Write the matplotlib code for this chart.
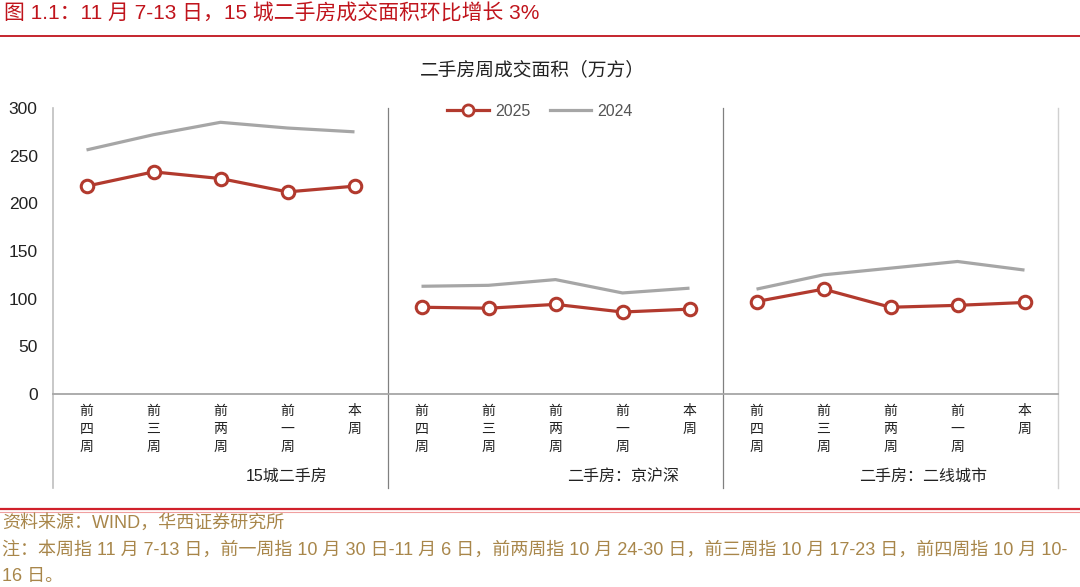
import matplotlib
matplotlib.use("Agg")
import matplotlib.pyplot as plt
from matplotlib.lines import Line2D

plt.rcParams['font.family'] = ['Liberation Sans', 'Noto Sans CJK SC', 'DejaVu Sans']

weeks = ["前四周", "前三周", "前两周", "前一周", "本周"]
groups = ["15城二手房", "二手房：京沪深", "二手房：二线城市"]
s2025 = [[218, 233, 226, 212, 218],
         [91, 90, 94, 86, 89],
         [97, 110, 91, 93, 96]]
s2024 = [[256, 272, 285, 279, 275],
         [113, 114, 120, 106, 111],
         [110, 125, 132, 139, 130]]
yticks = [0, 50, 100, 150, 200, 250, 300]

W, H = 1080, 587
fig = plt.figure(figsize=(W/100, H/100), dpi=100)
ax = fig.add_axes([53/W, 1-394/H, 1005/W, 286/H])

red = '#b23a2e'
gray = '#a6a6a6'
for g in range(3):
    xs = [g*5 + i for i in range(5)]
    ax.plot(xs, s2024[g], color=gray, lw=2.3, solid_capstyle='butt', zorder=2)
    ax.plot(xs, s2025[g], color=red, lw=2.3, marker='o', ms=9, mfc='white', mec=red, mew=2.2, zorder=3)

ax.set_xlim(-0.5, 14.5)
ax.set_ylim(0, 300)
ax.set_yticks(yticks)
ax.set_yticklabels([str(v) for v in yticks], fontsize=12.5, color='#222222')
ax.tick_params(axis='y', length=0, pad=11)
ax.set_xticks([])
for sp in ['top', 'right', 'bottom', 'left']:
    ax.spines[sp].set_visible(False)

low = -98.5
ax.plot([-0.5, -0.5], [300, low], color='#bfbfbf', lw=1.2, clip_on=False, zorder=1)
for xv in [4.5, 9.5]:
    ax.plot([xv, xv], [300, low], color='#808080', lw=0.9, clip_on=False, zorder=1)
ax.plot([14.5, 14.5], [300, low], color='#d0d0d0', lw=1.0, clip_on=False, zorder=1)
ax.plot([-0.5, 14.5], [0, 0], color='#a6a6a6', lw=1.3, clip_on=False, zorder=1)

for g in range(3):
    for i, w in enumerate(weeks):
        ax.text(g*5 + i, -11, "\n".join(w), ha='center', va='top', fontsize=10,
                linespacing=1.35, color='#222222', family=['Noto Sans CJK SC'])
group_x = [(287-53)/67 - 0.5, (623-53)/67 - 0.5, (923-53)/67 - 0.5]
for g in range(3):
    ax.text(group_x[g], -86, groups[g], ha='center', va='center', fontsize=11.5,
            color='#222222', family=['Liberation Sans', 'Noto Sans CJK SC'])

handles = [Line2D([], [], color=red, lw=2.3, marker='o', ms=8, mfc='white', mec=red, mew=2),
           Line2D([], [], color=gray, lw=2.3)]
ax.legend(handles, ['2025', '2024'], loc='center', bbox_to_anchor=((540-53)/1005, 1-3/286),
          ncol=2, frameon=False, fontsize=11.5, handlelength=2.6, columnspacing=1.2,
          handletextpad=0.4, labelcolor='#555555')

fig.text(532/W, 1-70/H, "二手房周成交面积（万方）", ha='center', va='center', fontsize=13.5,
         color='#222222', family=['Noto Sans CJK SC'])

fig.text(4/W, 1-14/H, "图 1.1：11 月 7-13 日，15 城二手房成交面积环比增长 3%", ha='left', va='center',
         fontsize=15, color='#c0141c')
fig.add_artist(Line2D([0, 1], [1-36/H, 1-36/H], color='#c0141c', lw=1.3))
fig.add_artist(Line2D([0, 1], [1-509/H, 1-509/H], color='#d0202a', lw=1.6))
fig.add_artist(Line2D([0, 1], [1-512/H, 1-512/H], color='#f0a0a0', lw=0.8))

foot = '#a8864a'
fig.text(2/W, 1-523/H, "资料来源：WIND，华西证券研究所", ha='left', va='center', fontsize=13, color=foot)
fig.text(2/W, 1-550/H, "注：本周指 11 月 7-13 日，前一周指 10 月 30 日-11 月 6 日，前两周指 10 月 24-30 日，前三周指 10 月 17-23 日，前四周指 10 月 10-",
         ha='left', va='center', fontsize=13, color=foot)
fig.text(2/W, 1-576/H, "16 日。", ha='left', va='center', fontsize=13, color=foot)

fig.savefig("out.png", dpi=100)
